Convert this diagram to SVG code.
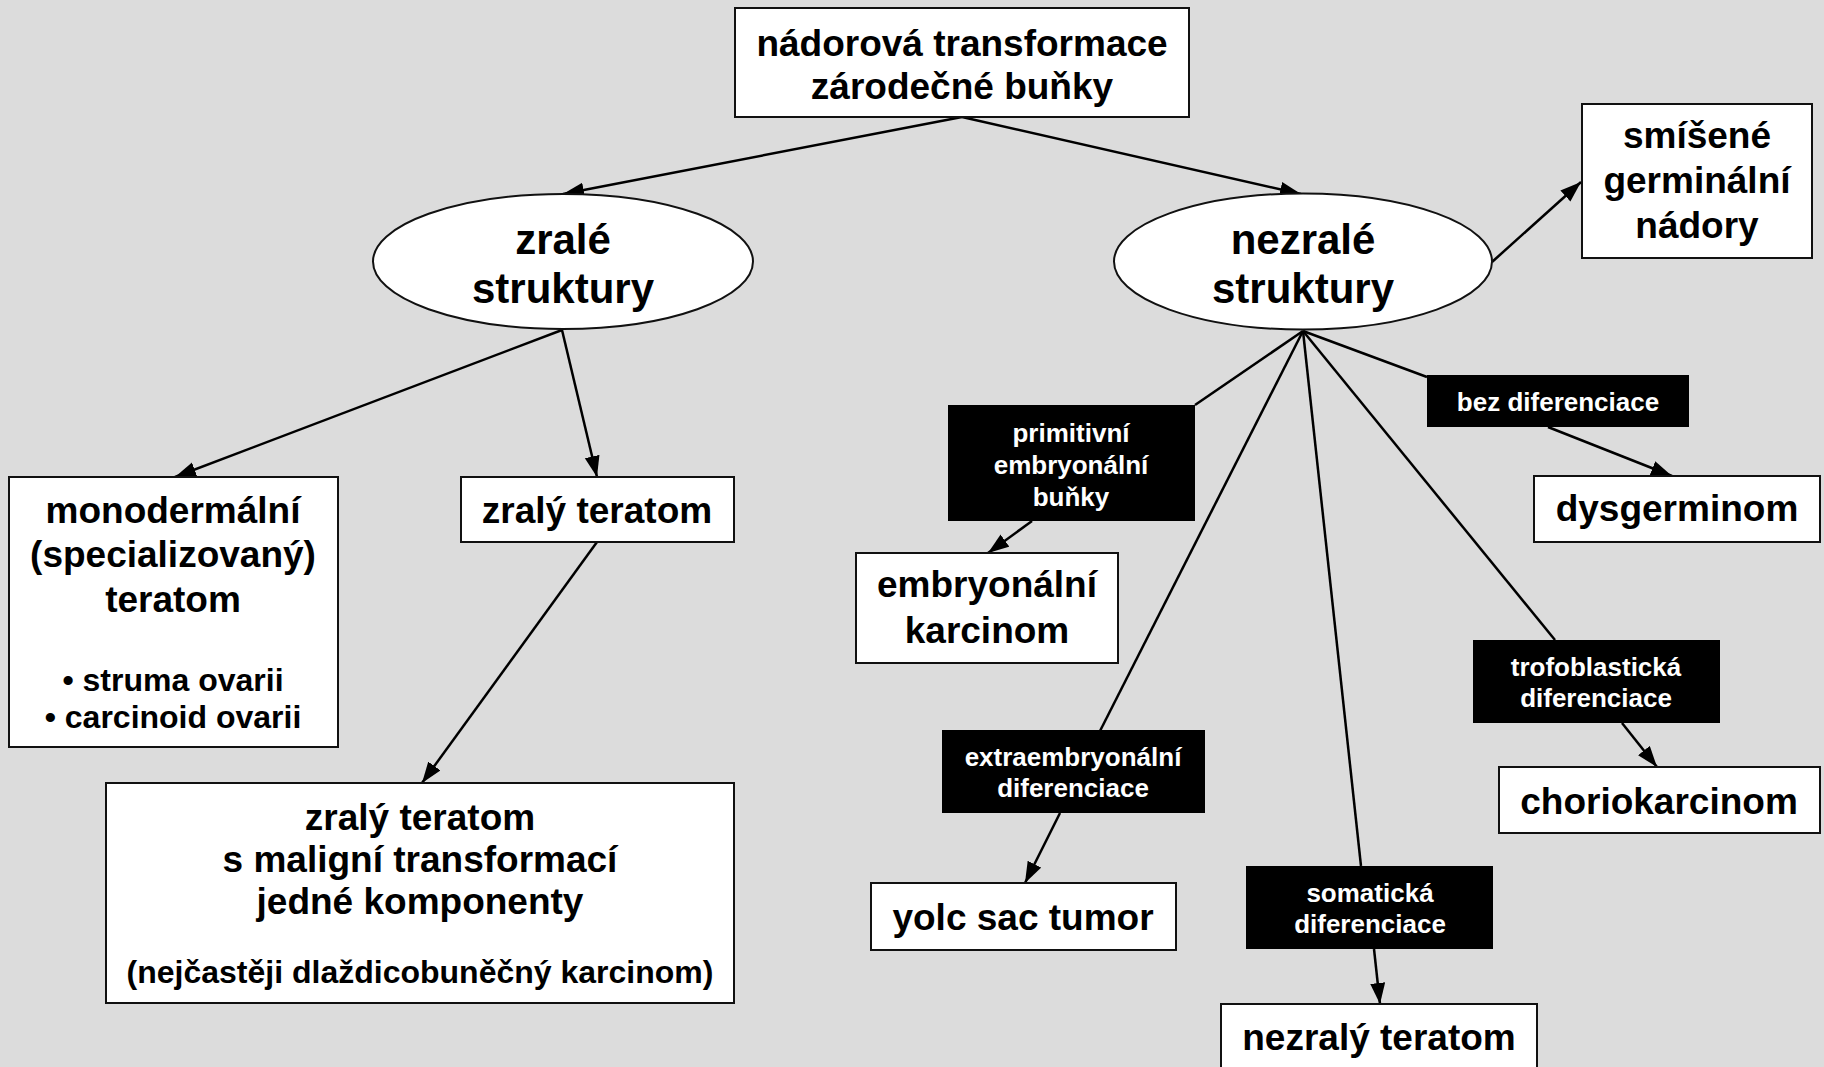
<svg xmlns="http://www.w3.org/2000/svg" width="1824" height="1067" viewBox="0 0 1824 1067">
<style>
.box{fill:#fff;stroke:#111;stroke-width:2}
.lab{fill:#000}
.t{font-family:"Liberation Sans",Arial,sans-serif;font-weight:bold;fill:#000;text-anchor:middle}
.m{font-size:37px}
.e{font-size:42px}
.s{font-size:32px}
.w{font-family:"Liberation Sans",Arial,sans-serif;font-weight:bold;fill:#fff;text-anchor:middle;font-size:26px}
.c{stroke:#000;stroke-width:2.5;fill:none}
.a{marker-end:url(#ah)}
</style>
<defs>
<marker id="ah" markerUnits="userSpaceOnUse" markerWidth="24" markerHeight="18" refX="21" refY="7.5" orient="auto">
<path d="M0,0 L21,7.5 L0,15 z" fill="#000"/>
</marker>
</defs>
<rect width="1824" height="1067" fill="#DCDCDC"/>
<g id="connectors">
<path class="c a" d="M962,117 L563,194"/>
<path class="c a" d="M962,117 L1301,194"/>
<path class="c a" d="M1492,262 L1581,182"/>
<path class="c a" d="M562,330 L175,477"/>
<path class="c a" d="M562,330 L597,477"/>
<path class="c a" d="M597,542 L422,783"/>
<path class="c" d="M1303,331 L1195,405"/>
<path class="c a" d="M1032,521 L988,553"/>
<path class="c" d="M1303,331 L1427,377"/>
<path class="c a" d="M1548,427 L1672,476"/>
<path class="c" d="M1303,331 L1555,640"/>
<path class="c a" d="M1622,723 L1657,767"/>
<path class="c" d="M1303,331 L1100,731"/>
<path class="c a" d="M1060,813 L1025,883"/>
<path class="c" d="M1303,331 L1361,866"/>
<path class="c a" d="M1374,949 L1380,1004"/>
</g>
<g id="top">
<rect class="box" x="735" y="8" width="454" height="109"/>
<text class="t m" x="962" y="56">nádorová transformace</text>
<text class="t m" x="962" y="99">zárodečné buňky</text>
</g>
<g id="zrale">
<ellipse class="box" cx="563" cy="261.5" rx="190" ry="67.5"/>
<text class="t e" x="563" y="254">zralé</text>
<text class="t e" x="563" y="303">struktury</text>
</g>
<g id="nezrale">
<ellipse class="box" cx="1303" cy="261.5" rx="189" ry="68"/>
<text class="t e" x="1303" y="254">nezralé</text>
<text class="t e" x="1303" y="303">struktury</text>
</g>
<g id="smisene">
<rect class="box" x="1582" y="104" width="230" height="154"/>
<text class="t m" x="1697" y="148">smíšené</text>
<text class="t m" x="1697" y="193">germinální</text>
<text class="t m" x="1697" y="238">nádory</text>
</g>
<g id="monodermalni">
<rect class="box" x="9" y="477" width="329" height="270"/>
<text class="t m" x="173" y="523">monodermální</text>
<text class="t m" x="173" y="567">(specializovaný)</text>
<text class="t m" x="173" y="612">teratom</text>
<text class="t s" x="173" y="691">• struma ovarii</text>
<text class="t s" x="173" y="728">• carcinoid ovarii</text>
</g>
<g id="zraly-teratom">
<rect class="box" x="461" y="477" width="273" height="65"/>
<text class="t m" x="597" y="523">zralý teratom</text>
</g>
<g id="maligni">
<rect class="box" x="106" y="783" width="628" height="220"/>
<text class="t m" x="420" y="830">zralý teratom</text>
<text class="t m" x="420" y="872">s maligní transformací</text>
<text class="t m" x="420" y="914">jedné komponenty</text>
<text class="t s" x="420" y="983">(nejčastěji dlaždicobuněčný karcinom)</text>
</g>
<g id="primitivni">
<rect class="lab" x="948" y="405" width="247" height="116"/>
<text class="w" x="1071" y="442">primitivní</text>
<text class="w" x="1071" y="474">embryonální</text>
<text class="w" x="1071" y="506">buňky</text>
</g>
<g id="embryonalni">
<rect class="box" x="856" y="553" width="262" height="110"/>
<text class="t m" x="987" y="597">embryonální</text>
<text class="t m" x="987" y="643">karcinom</text>
</g>
<g id="bez">
<rect class="lab" x="1427" y="375" width="262" height="52"/>
<text class="w" x="1558" y="411">bez diferenciace</text>
</g>
<g id="dysgerminom">
<rect class="box" x="1534" y="476" width="286" height="66"/>
<text class="t m" x="1677" y="521">dysgerminom</text>
</g>
<g id="trofo">
<rect class="lab" x="1473" y="640" width="247" height="83"/>
<text class="w" x="1596" y="676">trofoblastická</text>
<text class="w" x="1596" y="707">diferenciace</text>
</g>
<g id="chorio">
<rect class="box" x="1499" y="767" width="321" height="66"/>
<text class="t m" x="1659" y="814">choriokarcinom</text>
</g>
<g id="extra">
<rect class="lab" x="942" y="730" width="263" height="83"/>
<text class="w" x="1073" y="766">extraembryonální</text>
<text class="w" x="1073" y="797">diferenciace</text>
</g>
<g id="yolc">
<rect class="box" x="871" y="883" width="305" height="67"/>
<text class="t m" x="1023" y="930">yolc sac tumor</text>
</g>
<g id="somaticka">
<rect class="lab" x="1246" y="866" width="247" height="83"/>
<text class="w" x="1370" y="902">somatická</text>
<text class="w" x="1370" y="933">diferenciace</text>
</g>
<g id="nezraly">
<rect class="box" x="1221" y="1004" width="316" height="80"/>
<text class="t m" x="1379" y="1050">nezralý teratom</text>
</g>
</svg>
